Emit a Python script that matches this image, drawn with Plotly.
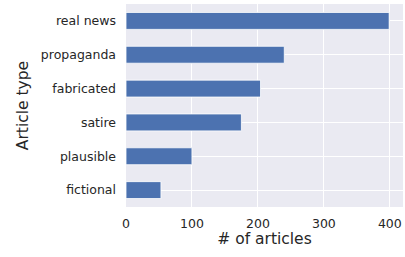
import plotly.graph_objects as go

categories = ["fictional", "plausible", "satire", "fabricated", "propaganda", "real news"]
counts = [53, 100, 175, 204, 240, 399]
x_ticks = [0, 100, 200, 300, 400]

fig = go.Figure(go.Bar(
    x=counts, y=categories, orientation="h", width=0.5,
    marker=dict(color="#4C72B0", line=dict(color="white", width=0.8)),
))

font_family = "DejaVu Sans"
fig.update_layout(
    width=405, height=257,
    margin=dict(l=126, r=2, t=4, b=50),
    paper_bgcolor="white", plot_bgcolor="#EAEAF2",
    font=dict(family=font_family, color="#262626", size=12),
    showlegend=False,
)
fig.update_xaxes(
    range=[0, 420], tickvals=x_ticks, showgrid=True, gridcolor="white", gridwidth=1.2,
    zeroline=False, showline=False, ticks="", ticklabelstandoff=7, automargin=False,
    tickfont=dict(size=12.5, color="#262626"),
    title=dict(text="# of articles", font=dict(size=15.5, color="#262626"), standoff=0),
)
fig.update_yaxes(
    range=[-0.5, 5.5], showgrid=True, gridcolor="white", gridwidth=1.2,
    zeroline=False, showline=False, ticks="", ticklabelstandoff=9, automargin=False,
    tickfont=dict(size=12.5, color="#262626"),
    title=dict(text="Article type", font=dict(size=15.5, color="#262626"), standoff=8),
)
fig.write_html("out.html", config={"displayModeBar": False},
               post_script="document.body.style.margin='0';")
